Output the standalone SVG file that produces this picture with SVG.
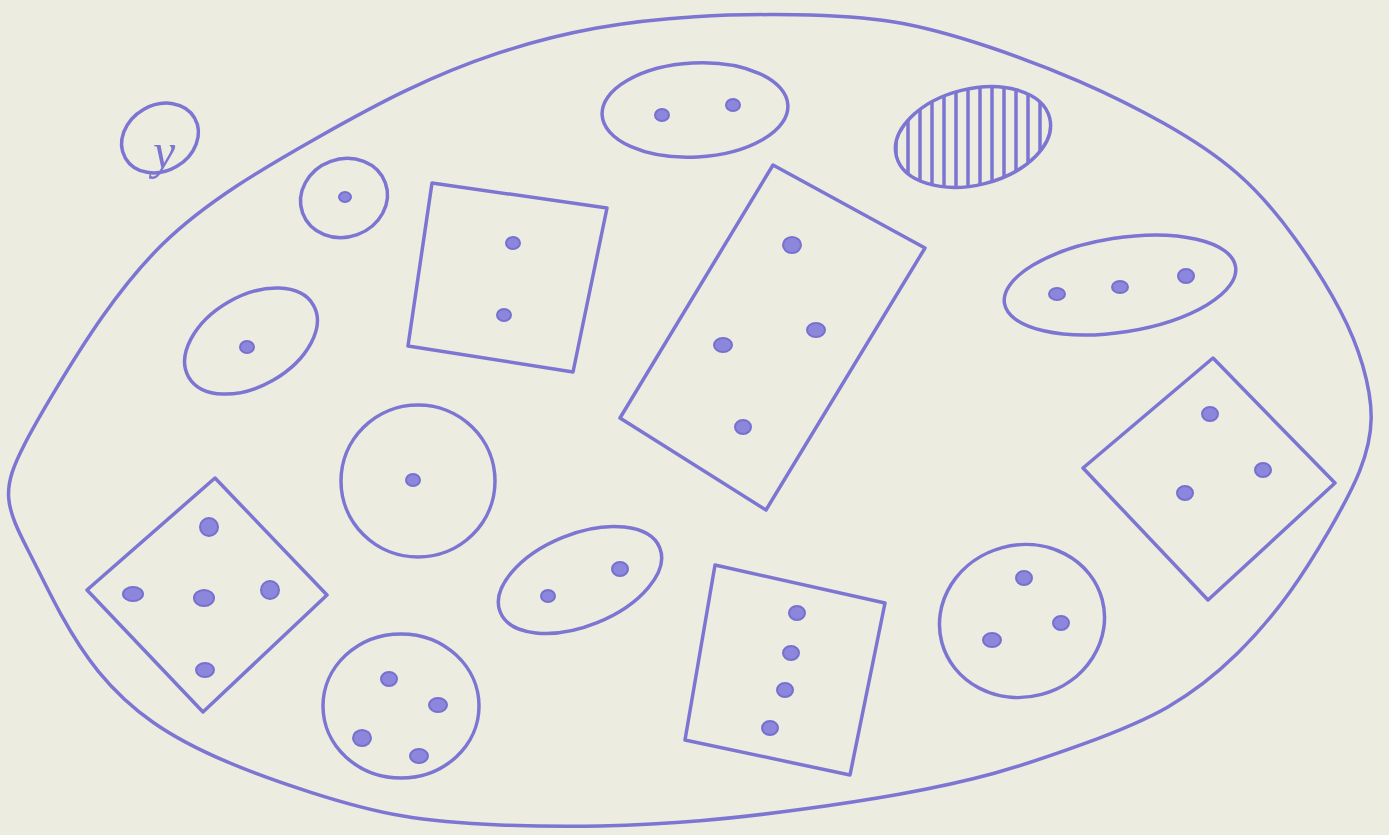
<svg xmlns="http://www.w3.org/2000/svg" width="1389" height="835" viewBox="0 0 1389 835">
<style>
.s{fill:none;stroke:#7C76D2;stroke-width:3.5;stroke-linejoin:round;stroke-linecap:round}
.d{fill:#8C86DC;stroke:#7670CE;stroke-width:2}
.h{stroke:#7C76D2;stroke-width:3.5}
</style>
<defs>
<clipPath id="hc"><ellipse cx="973" cy="137" rx="79" ry="48" transform="rotate(-14 973 137)"/></clipPath>
</defs>
<rect width="1389" height="835" fill="#EDECE1"/>
<g id="outer"><path class="s" d="M23.3,446.7 C32,429.7 42,412.3 55,390.7 C68,369 84,343 102,317.3 C120,291.7 140,266.3 162.5,244.3 C185,222.3 210,203.7 236.3,186.3 C262.7,169 290.3,153 318.7,137 C347,121 376,105 405.8,90.7 C435.7,76.3 466.3,63.7 498,53.2 C529.7,42.7 562.3,34.3 595.3,28.3 C628.3,22.3 661.7,18.7 695,16.7 C728.3,14.7 761.7,14.3 795,14.8 C828.3,15.3 861.7,16.7 894.2,22 C926.7,27.3 958.3,36.7 989.2,47 C1020,57.3 1050,68.7 1079.2,81.3 C1108.3,94 1136.7,108 1163.3,123 C1190,138 1215,154 1236.8,173 C1258.7,192 1277.3,214 1294.8,238.2 C1312.3,262.3 1328.7,288.7 1340,310.2 C1351.3,331.7 1357.7,348.3 1362.7,365.5 C1367.7,382.7 1371.3,400.3 1371.2,417.8 C1371,435.3 1367,452.7 1359.5,471.3 C1352,490 1341,510 1329.2,530.3 C1317.3,550.7 1304.7,571.3 1289.7,592.2 C1274.7,613 1257.3,634 1237,653.8 C1216.7,673.7 1193.3,692.3 1167.5,707.2 C1141.7,722 1113.3,733 1084.2,743.7 C1055,754.3 1025,764.7 994.2,773.2 C963.3,781.7 931.7,788.3 899.2,794.2 C866.7,800 833.3,805 800,809.5 C766.7,814 733.3,818 700,820.8 C666.7,823.7 633.3,825.3 600,826 C566.7,826.7 533.3,826.3 500,825 C466.7,823.7 433.3,821.3 401.7,815.8 C370,810.3 340,801.7 310.8,792.3 C281.7,783 253.3,773 226.7,761.7 C200,750.3 175,737.7 153.3,722.5 C131.7,707.3 113.3,689.7 98.3,671.3 C83.3,653 71.7,634 60.8,614.2 C50,594.3 40,573.7 30,554 C20,534.3 10,515.7 8.7,498 C7.3,480.3 14.7,463.7 23.3,446.7 Z"/></g>
<g id="mark">
<ellipse class="s" cx="160" cy="138" rx="40" ry="33" transform="rotate(-30 160 138)"/>
<text x="153" y="168" font-family="Liberation Serif, serif" font-style="italic" font-size="50" fill="#7C76D2">y</text>
</g>
<g id="e1"><ellipse class="s" cx="695" cy="110" rx="93" ry="47" transform="rotate(-3 695 110)"/>
<ellipse class="d" cx="662" cy="115" rx="7" ry="6"/><ellipse class="d" cx="733" cy="105" rx="7" ry="6"/></g>
<g id="hatched">
<g clip-path="url(#hc)">
<line class="h" x1="896" y1="60" x2="896" y2="210"/><line class="h" x1="908" y1="60" x2="908" y2="210"/>
<line class="h" x1="920" y1="60" x2="920" y2="210"/><line class="h" x1="932" y1="60" x2="932" y2="210"/>
<line class="h" x1="944" y1="60" x2="944" y2="210"/><line class="h" x1="956" y1="60" x2="956" y2="210"/>
<line class="h" x1="968" y1="60" x2="968" y2="210"/><line class="h" x1="980" y1="60" x2="980" y2="210"/>
<line class="h" x1="992" y1="60" x2="992" y2="210"/><line class="h" x1="1004" y1="60" x2="1004" y2="210"/>
<line class="h" x1="1016" y1="60" x2="1016" y2="210"/><line class="h" x1="1028" y1="60" x2="1028" y2="210"/>
<line class="h" x1="1040" y1="60" x2="1040" y2="210"/>
</g>
<ellipse class="s" cx="973" cy="137" rx="79" ry="48" transform="rotate(-14 973 137)"/>
</g>
<g id="c1"><ellipse class="s" cx="344" cy="198" rx="44" ry="39" transform="rotate(-20 344 198)"/>
<ellipse class="d" cx="345" cy="197" rx="6" ry="5"/></g>
<g id="sq1"><polygon class="s" points="432,183 607,208 573,372 408,346"/>
<ellipse class="d" cx="513" cy="243" rx="7" ry="6"/><ellipse class="d" cx="504" cy="315" rx="7" ry="6"/></g>
<g id="rect1"><polygon class="s" points="773,165 925,248 766,510 620,418"/>
<ellipse class="d" cx="792" cy="245" rx="9" ry="8"/><ellipse class="d" cx="816" cy="330" rx="9" ry="7"/>
<ellipse class="d" cx="723" cy="345" rx="9" ry="7"/><ellipse class="d" cx="743" cy="427" rx="8" ry="7"/></g>
<g id="e2"><ellipse class="s" cx="1120" cy="285" rx="117" ry="47" transform="rotate(-9 1120 285)"/>
<ellipse class="d" cx="1057" cy="294" rx="8" ry="6"/><ellipse class="d" cx="1120" cy="287" rx="8" ry="6"/><ellipse class="d" cx="1186" cy="276" rx="8" ry="7"/></g>
<g id="e3"><ellipse class="s" cx="251" cy="341" rx="72" ry="45" transform="rotate(-30 251 341)"/>
<ellipse class="d" cx="247" cy="347" rx="7" ry="6"/></g>
<g id="c2"><ellipse class="s" cx="418" cy="481" rx="77" ry="76"/>
<ellipse class="d" cx="413" cy="480" rx="7" ry="6"/></g>
<g id="dia1"><polygon class="s" points="1213,358 1335,483 1208,600 1083,468"/>
<ellipse class="d" cx="1210" cy="414" rx="8" ry="7"/><ellipse class="d" cx="1263" cy="470" rx="8" ry="7"/><ellipse class="d" cx="1185" cy="493" rx="8" ry="7"/></g>
<g id="dia2"><polygon class="s" points="215,478 327,595 203,712 87,590"/>
<ellipse class="d" cx="209" cy="527" rx="9" ry="9"/><ellipse class="d" cx="133" cy="594" rx="10" ry="7"/>
<ellipse class="d" cx="204" cy="598" rx="10" ry="8"/><ellipse class="d" cx="270" cy="590" rx="9" ry="9"/><ellipse class="d" cx="205" cy="670" rx="9" ry="7"/></g>
<g id="e4"><ellipse class="s" cx="580" cy="580" rx="86" ry="46" transform="rotate(-22 580 580)"/>
<ellipse class="d" cx="548" cy="596" rx="7" ry="6"/><ellipse class="d" cx="620" cy="569" rx="8" ry="7"/></g>
<g id="rect2"><polygon class="s" points="715,565 885,603 850,775 685,740"/>
<ellipse class="d" cx="797" cy="613" rx="8" ry="7"/><ellipse class="d" cx="791" cy="653" rx="8" ry="7"/>
<ellipse class="d" cx="785" cy="690" rx="8" ry="7"/><ellipse class="d" cx="770" cy="728" rx="8" ry="7"/></g>
<g id="c3"><ellipse class="s" cx="401" cy="706" rx="78" ry="72"/>
<ellipse class="d" cx="389" cy="679" rx="8" ry="7"/><ellipse class="d" cx="438" cy="705" rx="9" ry="7"/>
<ellipse class="d" cx="362" cy="738" rx="9" ry="8"/><ellipse class="d" cx="419" cy="756" rx="9" ry="7"/></g>
<g id="e5"><ellipse class="s" cx="1022" cy="621" rx="83" ry="76" transform="rotate(-15 1022 621)"/>
<ellipse class="d" cx="1024" cy="578" rx="8" ry="7"/><ellipse class="d" cx="992" cy="640" rx="9" ry="7"/><ellipse class="d" cx="1061" cy="623" rx="8" ry="7"/></g>
</svg>
